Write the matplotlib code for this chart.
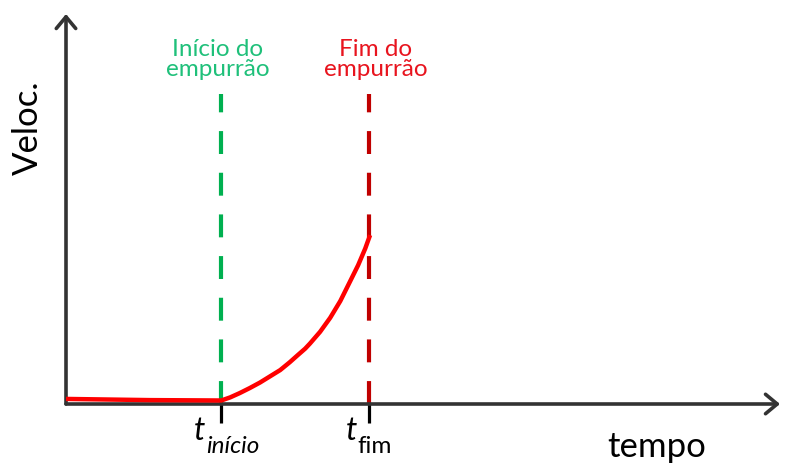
import matplotlib
matplotlib.use("Agg")
import matplotlib.pyplot as plt

plt.rcParams['font.family'] = ['Lato', 'DejaVu Sans']

# dados
t_inicio = 2.6
t_fim = 5.1
tempo = [0.0, 1.41, 2.61, 2.76, 2.92, 3.09, 3.26, 3.43, 3.60, 3.76, 3.90, 4.02,
         4.10, 4.27, 4.44, 4.61, 4.77, 4.91, 5.03, 5.11]
veloc = [0.13, 0.10, 0.09, 0.17, 0.28, 0.41, 0.55, 0.71, 0.87, 1.07, 1.26, 1.42,
         1.55, 1.85, 2.21, 2.64, 3.13, 3.56, 3.99, 4.33]
altura_tracejado = 7.95

verde_linha = '#00B050'
verde_texto = '#1FC07A'
vermelho_linha = '#C00000'
vermelho_texto = '#E8141E'
cinza = '#333333'

W, H = 788, 464
fig = plt.figure(figsize=(W / 100, H / 100), dpi=100)
ax = fig.add_axes([66 / W, (H - 405) / H, (780 - 66) / W, (405 - 15) / H])
ax.set_xlim(0, 12)
ax.set_ylim(0, 10)
for s in ax.spines.values():
    s.set_visible(False)

# eixos com setas
seta = dict(arrowstyle='->,head_length=0.6,head_width=0.5', lw=2.6, color=cinza,
            mutation_scale=14, shrinkA=0, shrinkB=0)
ax.annotate('', xy=(1, 0), xytext=(0, 0), xycoords='axes fraction', arrowprops=seta)
ax.annotate('', xy=(0, 1), xytext=(0, 0), xycoords='axes fraction', arrowprops=seta)

# linhas tracejadas
ax.vlines(t_inicio, 0, altura_tracejado, colors=verde_linha, lw=3, linestyles=(0, (5.5, 4.5)))
ax.vlines(t_fim, 0, altura_tracejado, colors=vermelho_linha, lw=3, linestyles=(0, (5.5, 4.5)))

# curva de velocidade
ax.plot(tempo, veloc, color='#FF0000', lw=3.2, solid_capstyle='butt', solid_joinstyle='round', zorder=5)

ax.set_xticks([t_inicio, t_fim])
ax.set_xticklabels([])
ax.set_yticks([])
ax.tick_params(axis='x', direction='out', length=14, width=2.3, color='black')

ax.text(2.55, 8.86, 'Início do\nempurrão', color=verde_texto, fontsize=17.5, ha='center', va='center', linespacing=0.95)
ax.text(5.21, 8.86, 'Fim do\nempurrão', color=vermelho_texto, fontsize=17.5, ha='center', va='center', linespacing=0.95)

ax.text(9.93, -1.08, 'tempo', fontsize=25, ha='center', va='center', clip_on=False)
ax.text(-0.64, 7.1, 'Veloc.', fontsize=25, ha='center', va='center', rotation=90, clip_on=False)

# rótulos t_início e t_fim
ax.text(2.34, -0.9, 't', fontsize=23, style='italic', ha='right', va='baseline', clip_on=False)
ax.text(2.35, -1.23, 'início', fontsize=17.5, style='italic', ha='left', va='baseline', clip_on=False)
ax.text(4.89, -0.9, 't', fontsize=23, style='italic', ha='right', va='baseline', clip_on=False)
ax.text(4.9, -1.23, 'fim', fontsize=17.5, ha='left', va='baseline', clip_on=False)

fig.savefig('out.png', dpi=100)
